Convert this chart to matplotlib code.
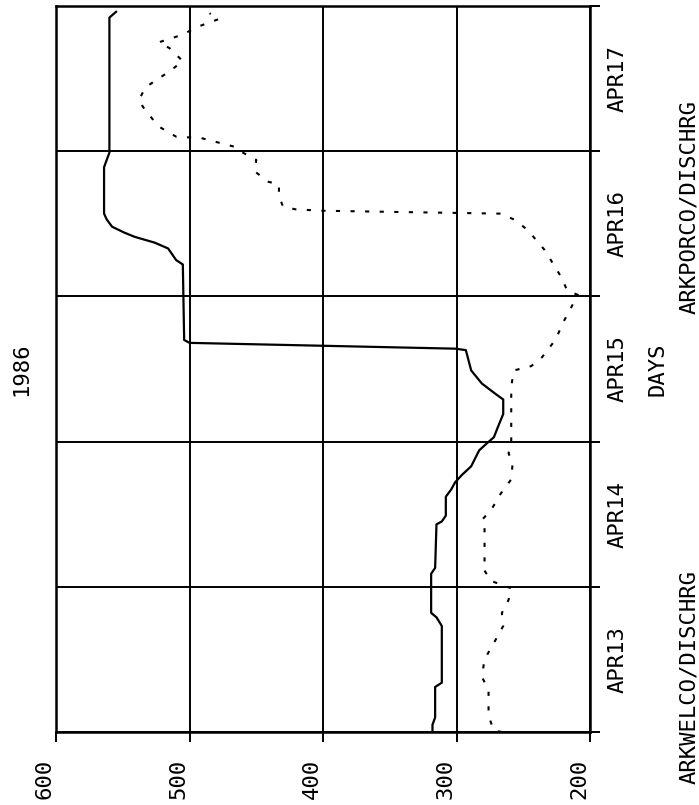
import matplotlib.pyplot as plt
import matplotlib.transforms as mtransforms

# time in days from APR13 00:00, discharge values
welco_days = [0.00, 0.05, 0.10, 0.31, 0.34, 0.73, 0.79, 0.82, 1.09, 1.13, 1.43, 1.45,
              1.49, 1.62, 1.67, 1.72, 1.77, 1.83, 1.94, 1.99, 2.03, 2.10, 2.19, 2.29,
              2.33, 2.40, 2.49, 2.56, 2.63, 2.64, 2.66, 2.68, 2.70, 3.22, 3.25, 3.33,
              3.37, 3.41, 3.44, 3.48, 3.53, 3.57, 3.85, 3.89, 3.99, 4.92, 4.96]
welco_cfs = [318, 318, 316, 316, 311, 311, 315, 319, 319, 316, 315, 311,
             308, 308, 304, 301, 296, 289, 283, 277, 272, 269, 265, 265,
             271, 281, 289, 291, 293, 301, 400, 500, 504, 505, 510, 516,
             526, 541, 549, 558, 562, 564, 564, 564, 560, 560, 555]

porco_days = [0.00, 0.01, 0.11, 0.29, 0.38, 0.50, 0.63, 0.73, 0.82, 0.91, 0.99, 1.04,
              1.14, 1.18, 1.41, 1.46, 1.53, 1.64, 1.74, 1.85, 1.92, 2.00, 2.38, 2.49,
              2.52, 2.58, 2.70, 2.84, 2.96, 3.01, 3.04, 3.14, 3.32, 3.46, 3.53, 3.57,
              3.59, 3.60, 3.62, 3.69, 3.77, 3.79, 3.86, 3.94, 3.99, 4.03, 4.09, 4.10,
              4.17, 4.28, 4.35, 4.44, 4.55, 4.62, 4.71, 4.75, 4.80, 4.86, 4.91, 4.95]
porco_cfs = [266, 272, 276, 276, 281, 279, 271, 265, 266, 261, 259, 274,
             281, 279, 279, 281, 274, 267, 259, 258, 261, 259, 259, 257,
             244, 236, 226, 219, 212, 209, 217, 222, 234, 247, 257, 267,
             401, 421, 430, 433, 433, 441, 451, 450, 460, 466, 491, 510,
             523, 533, 538, 533, 515, 505, 515, 523, 506, 493, 478, 485]

value_ticks = [600, 500, 400, 300, 200]
day_labels = ['APR13', 'APR14', 'APR15', 'APR16', 'APR17']

FONT = 'DejaVu Sans Mono'
FS = 16

fig = plt.figure(figsize=(6.99, 8.05), dpi=100)
ax = fig.add_axes([56 / 699, 73 / 805, 534 / 699, 726 / 805])

# chart is drawn rotated: value runs right-to-left, time runs upward
ax.plot(welco_cfs, welco_days, color='black', lw=1.6)
ax.plot(porco_cfs, porco_days, color='black', lw=1.5, linestyle=(0, (2, 5)))

ax.set_xlim(600, 200)
ax.set_ylim(0, 5)
ax.set_xticks(value_ticks)
ax.set_yticks(range(6))
ax.grid(True, color='black', lw=1.4)
ax.tick_params(axis='x', bottom=True, top=False, direction='out', length=7, width=1.4,
               labelbottom=False)
ax.tick_params(axis='y', left=False, right=True, direction='out', length=7, width=1.4,
               labelleft=False)
for s in ax.spines.values():
    s.set_linewidth(1.8)

# value labels under the frame, rotated
shift = mtransforms.ScaledTranslation(-11 / 100, 0, fig.dpi_scale_trans)
xtrans = mtransforms.blended_transform_factory(ax.transData, ax.transAxes) + shift
for v in value_ticks:
    ax.text(v, -0.0647, str(v), transform=xtrans, rotation=90, ha='center', va='center',
            family=FONT, fontsize=FS)

# day labels on the right side, centred in each day
ytrans = mtransforms.blended_transform_factory(ax.transAxes, ax.transData)
for i, lab in enumerate(day_labels):
    ax.text(1.0524, i + 0.5, lab, transform=ytrans, rotation=90, ha='center', va='center',
            family=FONT, fontsize=FS)

ax.text(1.1255, 0.5, 'DAYS', transform=ax.transAxes, rotation=90, ha='center',
        va='center', family=FONT, fontsize=FS)
ax.text(1.1854, 0.0758, 'ARKWELCO/DISCHRG', transform=ax.transAxes, rotation=90,
        ha='center', va='center', family=FONT, fontsize=FS)
ax.text(1.1854, 0.7231, 'ARKPORCO/DISCHRG', transform=ax.transAxes, rotation=90,
        ha='center', va='center', family=FONT, fontsize=FS)
ax.text(-0.0655, 0.5, '1986', transform=ax.transAxes, rotation=90, ha='center',
        va='center', family=FONT, fontsize=FS)

fig.savefig('out.png', dpi=100)
